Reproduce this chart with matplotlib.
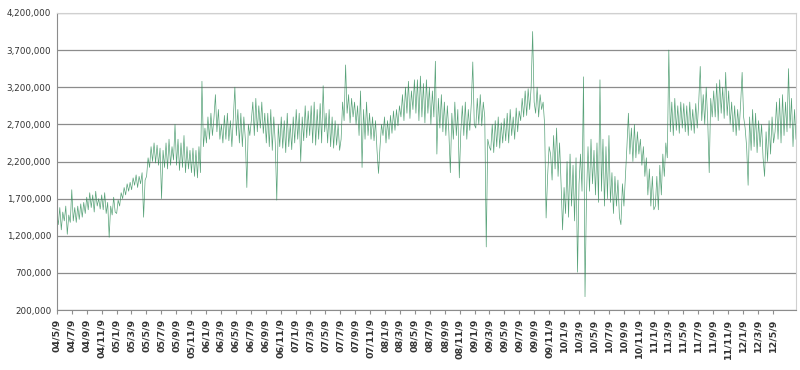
"""
plot.py

Recreates the daily volume chart, 2004/5/9 - 2012/8.
Values are read off the reference picture, in units of 10,000.
"""

import matplotlib
matplotlib.use("Agg")
import matplotlib.pyplot as plt
import matplotlib.dates as mdates
import pandas as pd

# date span of the series
start_date = "2004-05-09"
end_date = "2012-08-11"

# one row per two-month block (04/5/9 ... 12/5/9 and on), in 10,000s
seg_04_05 = [150, 135, 158, 128, 152, 140, 160, 122, 148, 138]
seg_04_07 = [182, 140, 158, 138, 160, 142, 163, 145, 165, 150]
seg_04_09 = [172, 155, 178, 158, 175, 152, 180, 160, 170, 156]
seg_04_11 = [175, 155, 178, 150, 165, 118, 160, 148, 172, 152]
seg_05_01 = [150, 168, 160, 178, 170, 185, 175, 190, 180, 192]
seg_05_03 = [182, 198, 188, 202, 185, 200, 190, 205, 145, 195]
seg_05_05 = [200, 225, 212, 240, 220, 245, 218, 242, 215, 238]
seg_05_07 = [170, 235, 212, 245, 210, 250, 215, 240, 222, 270]
seg_05_09 = [215, 250, 208, 245, 212, 255, 205, 240, 210, 235]
seg_05_11 = [205, 238, 200, 235, 198, 240, 205, 328, 240, 265]
seg_06_01 = [245, 280, 250, 285, 255, 278, 310, 260, 290, 250]
seg_06_03 = [270, 245, 282, 250, 285, 248, 275, 240, 280, 320]
seg_06_05 = [255, 290, 245, 285, 240, 280, 250, 185, 270, 255]
seg_06_07 = [275, 300, 255, 305, 260, 295, 265, 300, 258, 285]
seg_06_09 = [245, 285, 240, 290, 235, 280, 245, 168, 270, 240]
seg_06_11 = [280, 238, 275, 232, 285, 240, 270, 236, 280, 245]
seg_07_01 = [290, 250, 285, 220, 280, 248, 295, 252, 288, 255]
seg_07_03 = [295, 245, 300, 242, 290, 250, 298, 245, 322, 260]
seg_07_05 = [285, 245, 290, 240, 280, 238, 275, 242, 270, 235]
seg_07_07 = [250, 300, 275, 350, 285, 310, 272, 305, 280, 300]
seg_07_09 = [270, 295, 255, 315, 212, 290, 250, 300, 255, 285]
seg_07_11 = [250, 280, 248, 275, 235, 204, 240, 270, 255, 280]
seg_08_01 = [245, 275, 250, 282, 258, 288, 262, 290, 268, 295]
seg_08_03 = [280, 310, 275, 320, 285, 328, 278, 315, 290, 330]
seg_08_05 = [285, 330, 275, 335, 280, 325, 272, 330, 285, 320]
seg_08_07 = [270, 315, 280, 355, 230, 305, 265, 310, 260, 300]
seg_08_09 = [255, 295, 260, 205, 285, 250, 300, 255, 290, 198]
seg_08_11 = [260, 295, 255, 300, 250, 290, 262, 298, 354, 270]
seg_09_01 = [265, 305, 270, 310, 268, 300, 280, 105, 250, 240]
seg_09_03 = [235, 270, 232, 275, 240, 280, 238, 272, 245, 278]
seg_09_05 = [248, 285, 245, 290, 255, 280, 250, 292, 260, 288]
seg_09_07 = [275, 305, 280, 315, 282, 318, 290, 320, 395, 300]
seg_09_09 = [285, 320, 280, 310, 290, 300, 270, 144, 200, 240]
seg_09_11 = [230, 195, 255, 210, 265, 200, 245, 190, 128, 185]
seg_10_01 = [150, 220, 145, 230, 160, 215, 140, 225, 71, 190]
seg_10_03 = [230, 180, 334, 38, 175, 240, 180, 250, 190, 235]
seg_10_05 = [175, 245, 165, 330, 180, 250, 160, 240, 170, 255]
seg_10_07 = [165, 205, 150, 200, 160, 195, 145, 135, 190, 160]
seg_10_09 = [200, 240, 285, 230, 265, 220, 270, 225, 260, 230]
seg_10_11 = [250, 215, 240, 200, 225, 175, 210, 160, 200, 155]
seg_11_01 = [160, 200, 155, 215, 175, 230, 200, 245, 225, 370]
seg_11_03 = [260, 300, 255, 305, 262, 295, 258, 300, 265, 298]
seg_11_05 = [260, 295, 255, 300, 262, 290, 258, 298, 265, 300]
seg_11_07 = [348, 275, 310, 270, 320, 275, 205, 305, 280, 315]
seg_11_09 = [280, 325, 275, 330, 285, 320, 278, 340, 282, 315]
seg_11_11 = [270, 300, 260, 295, 255, 290, 262, 298, 340, 280]
seg_12_01 = [265, 240, 188, 280, 235, 290, 240, 285, 232, 275]
seg_12_03 = [240, 270, 225, 200, 260, 220, 275, 230, 280, 245]
seg_12_05 = [260, 300, 250, 305, 245, 310, 255, 300, 260, 345,
             265, 305, 240, 290, 250]

blocks = [
    seg_04_05, seg_04_07, seg_04_09, seg_04_11,
    seg_05_01, seg_05_03, seg_05_05, seg_05_07, seg_05_09, seg_05_11,
    seg_06_01, seg_06_03, seg_06_05, seg_06_07, seg_06_09, seg_06_11,
    seg_07_01, seg_07_03, seg_07_05, seg_07_07, seg_07_09, seg_07_11,
    seg_08_01, seg_08_03, seg_08_05, seg_08_07, seg_08_09, seg_08_11,
    seg_09_01, seg_09_03, seg_09_05, seg_09_07, seg_09_09, seg_09_11,
    seg_10_01, seg_10_03, seg_10_05, seg_10_07, seg_10_09, seg_10_11,
    seg_11_01, seg_11_03, seg_11_05, seg_11_07, seg_11_09, seg_11_11,
    seg_12_01, seg_12_03, seg_12_05,
]

values = [v * 10000 for block in blocks for v in block]
dates = pd.date_range(start_date, end_date, periods=len(values))

# x tick dates every two months, y ticks
tick_dates = pd.date_range("2004-05-09", "2012-05-09", freq=pd.DateOffset(months=2))
tick_labels = [f"{d.year % 100:02d}/{d.month}/{d.day}" for d in tick_dates]
y_ticks = list(range(200000, 4200001, 500000))

fig = plt.figure(figsize=(8, 3.7), dpi=100)
ax = fig.add_axes([0.071, 0.162, 0.924, 0.803])

ax.plot(dates, values, color="#2e8b57", linewidth=0.5, alpha=0.8)

ax.set_ylim(200000, 4200000)
ax.set_xlim(pd.Timestamp(start_date), pd.Timestamp(end_date))
ax.set_yticks(y_ticks)
ax.set_yticklabels([f"{v:,}" for v in y_ticks], fontsize=6.3, color="#333333")
ax.tick_params(axis="y", length=0, pad=4)

ax.set_xticks(mdates.date2num(tick_dates))
ax.set_xticklabels(tick_labels, rotation=90, fontsize=6.8, fontweight="bold",
                   color="#333333")
ax.tick_params(axis="x", length=3, color="#909090", pad=3)

ax.grid(axis="y", color="#8c8c8c", linewidth=0.9)
ax.set_axisbelow(True)
for side in ["left", "bottom"]:
    ax.spines[side].set_color("#8c8c8c")
for side in ["top", "right"]:
    ax.spines[side].set_color("#d0d0d0")

fig.savefig("out.png", dpi=100)
